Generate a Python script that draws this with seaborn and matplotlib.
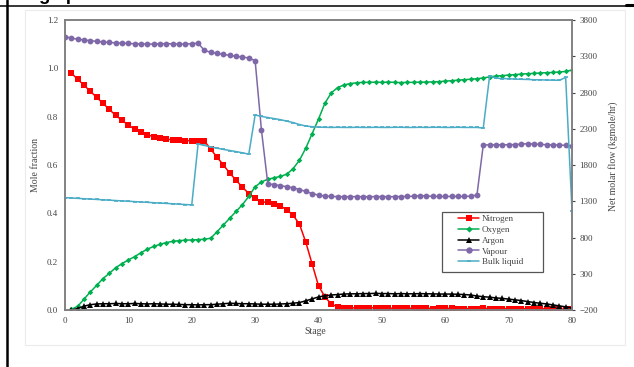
import matplotlib
matplotlib.use("Agg")
import matplotlib.pyplot as plt
import seaborn as sns
import pandas as pd
from matplotlib.lines import Line2D
from matplotlib.patches import Rectangle

# Column stages
stage_liq = list(range(1, 81))
stage_flow = list(range(0, 81))

# Liquid-phase mole fractions (stages 1-80)
nitrogen = [0.980, 0.955, 0.930, 0.905, 0.880, 0.855, 0.830, 0.805, 0.785, 0.765,
            0.748, 0.735, 0.725, 0.717, 0.711, 0.707, 0.704, 0.702, 0.701, 0.700,
            0.700, 0.699, 0.665, 0.632, 0.600, 0.566, 0.537, 0.508, 0.482, 0.462,
            0.448, 0.445, 0.440, 0.430, 0.415, 0.392, 0.355, 0.280, 0.190, 0.100,
            0.055, 0.025, 0.013, 0.010, 0.009, 0.009, 0.010, 0.010, 0.009, 0.008,
            0.008, 0.007, 0.007, 0.007, 0.007, 0.007, 0.007, 0.006, 0.007, 0.007,
            0.007, 0.006, 0.006, 0.006, 0.006, 0.007, 0.006, 0.006, 0.006, 0.006,
            0.006, 0.006, 0.005, 0.005, 0.005, 0.005, 0.004, 0.004, 0.004, 0.003]
oxygen = [0.003, 0.015, 0.045, 0.075, 0.102, 0.130, 0.152, 0.175, 0.192, 0.207,
          0.221, 0.237, 0.252, 0.263, 0.272, 0.279, 0.284, 0.287, 0.289, 0.290,
          0.291, 0.293, 0.297, 0.324, 0.352, 0.380, 0.408, 0.436, 0.470, 0.510,
          0.530, 0.541, 0.547, 0.553, 0.562, 0.585, 0.620, 0.670, 0.730, 0.790,
          0.855, 0.898, 0.920, 0.931, 0.937, 0.940, 0.942, 0.942, 0.943, 0.942,
          0.943, 0.942, 0.941, 0.942, 0.942, 0.943, 0.943, 0.944, 0.945, 0.947,
          0.949, 0.951, 0.953, 0.955, 0.957, 0.960, 0.965, 0.968, 0.970, 0.972,
          0.974, 0.976, 0.978, 0.979, 0.981, 0.982, 0.983, 0.985, 0.987, 0.993]
argon = [0.000, 0.006, 0.016, 0.022, 0.025, 0.026, 0.026, 0.027, 0.026, 0.026,
         0.027, 0.026, 0.025, 0.026, 0.025, 0.024, 0.024, 0.023, 0.022, 0.022,
         0.021, 0.022, 0.022, 0.024, 0.026, 0.028, 0.027, 0.026, 0.026, 0.025,
         0.024, 0.024, 0.024, 0.025, 0.026, 0.028, 0.031, 0.038, 0.046, 0.054,
         0.059, 0.062, 0.064, 0.066, 0.067, 0.067, 0.068, 0.068, 0.069, 0.068,
         0.068, 0.067, 0.068, 0.067, 0.067, 0.068, 0.067, 0.067, 0.066, 0.066,
         0.066, 0.065, 0.064, 0.062, 0.058, 0.055, 0.053, 0.050, 0.048, 0.045,
         0.042, 0.039, 0.035, 0.031, 0.028, 0.025, 0.021, 0.017, 0.013, 0.009]

# Net molar flows in kgmole/hr (stages 0-80)
vapour = [3570, 3550, 3535, 3525, 3515, 3505, 3497, 3490, 3485, 3480,
          3477, 3472, 3470, 3468, 3468, 3472, 3474, 3470, 3468, 3470,
          3472, 3480, 3380, 3355, 3340, 3326, 3312, 3300, 3290, 3275,
          3240, 2280, 1540, 1530, 1515, 1500, 1485, 1462, 1435, 1405,
          1385, 1372, 1366, 1364, 1363, 1363, 1364, 1363, 1363, 1365,
          1364, 1363, 1364, 1365, 1366, 1370, 1378, 1372, 1368, 1366,
          1366, 1367, 1366, 1367, 1370, 1386, 2076, 2078, 2080, 2078,
          2080, 2082, 2088, 2094, 2090, 2084, 2080, 2078, 2076, 2070, 2062]
bulk_liquid = [1350, 1345, 1340, 1335, 1330, 1325, 1320, 1315, 1310, 1305,
               1300, 1295, 1290, 1285, 1280, 1275, 1270, 1265, 1260, 1255,
               1250, 2090, 2070, 2050, 2032, 2015, 2000, 1985, 1968, 1950,
               2490, 2470, 2455, 2440, 2425, 2405, 2385, 2358, 2338, 2328,
               2322, 2320, 2318, 2320, 2318, 2318, 2320, 2318, 2318, 2320,
               2318, 2318, 2320, 2320, 2318, 2318, 2320, 2318, 2320, 2320,
               2318, 2318, 2320, 2318, 2318, 2318, 2310, 3030, 2998, 2992,
               2990, 2985, 2982, 2980, 2976, 2975, 2972, 2970, 2968, 3008, 1170]

left_ticks = [0.0, 0.2, 0.4, 0.6, 0.8, 1.0, 1.2]
right_ticks = [-200, 300, 800, 1300, 1800, 2300, 2800, 3300, 3800]
x_ticks = [0, 10, 20, 30, 40, 50, 60, 70, 80]

sns.set_theme(style="white")
plt.rcParams["font.family"] = ["Liberation Serif", "DejaVu Serif"]

W, H = 634, 367
fig = plt.figure(figsize=(W / 100, H / 100), dpi=100)
fig.patch.set_facecolor("white")

ax_l, ax_r, ax_t, ax_b = 65, 572, 20, 310
ax = fig.add_axes([ax_l / W, 1 - ax_b / H, (ax_r - ax_l) / W, (ax_b - ax_t) / H])
ax2 = ax.twinx()

comp = pd.DataFrame({
    "Stage": stage_liq * 3,
    "value": nitrogen + oxygen + argon,
    "series": ["Nitrogen"] * 80 + ["Oxygen"] * 80 + ["Argon"] * 80,
})
flow = pd.DataFrame({
    "Stage": stage_flow * 2,
    "value": vapour + bulk_liquid,
    "series": ["Vapour"] * 81 + ["Bulk liquid"] * 81,
})

styles = {
    "Nitrogen": dict(color="#ff0000", marker="s", markersize=3.9),
    "Oxygen": dict(color="#00b050", marker="D", markersize=2.8),
    "Argon": dict(color="#000000", marker="^", markersize=3.9),
    "Vapour": dict(color="#7f68a8", marker="o", markersize=4.2),
    "Bulk liquid": dict(color="#4bacc6", marker="_", markersize=3.0),
}

for name in ["Nitrogen", "Oxygen", "Argon"]:
    st = styles[name]
    sns.lineplot(data=comp[comp["series"] == name], x="Stage", y="value", ax=ax,
                 color=st["color"], marker=st["marker"], markersize=st["markersize"],
                 markeredgewidth=0, linewidth=1.1, legend=False)
for name in ["Vapour", "Bulk liquid"]:
    st = styles[name]
    sns.lineplot(data=flow[flow["series"] == name], x="Stage", y="value", ax=ax2,
                 color=st["color"], marker=st["marker"], markersize=st["markersize"],
                 markeredgewidth=1.2 if st["marker"] == "_" else 0,
                 markeredgecolor=st["color"], linewidth=1.1, legend=False)

ax.set_xlim(0, 80)
ax.set_ylim(0, 1.2)
ax2.set_ylim(-200, 3800)
ax.set_xticks(x_ticks)
ax.set_yticks(left_ticks)
ax.set_yticklabels([f"{v:.1f}" for v in left_ticks])
ax2.set_yticks(right_ticks)

tick_color = "#444444"
ax.tick_params(axis="both", labelsize=6.5, colors=tick_color, length=0, pad=5)
ax2.tick_params(axis="y", labelsize=6.5, colors=tick_color, length=2.5, width=0.8,
                direction="out", pad=3, right=True)

for a in (ax, ax2):
    for sp in a.spines.values():
        sp.set_color("#7f7f7f")
        sp.set_linewidth(1.1)

ax.set_xlabel("Stage", fontsize=7, color=tick_color)
ax.set_ylabel("Mole fraction", fontsize=7, color=tick_color)
ax2.set_ylabel("Net molar flow (kgmole/hr)", fontsize=7, color=tick_color)
ax.xaxis.set_label_coords((315 - ax_l) / (ax_r - ax_l), -(327 - ax_b) / (ax_b - ax_t))
ax.yaxis.set_label_coords(-(ax_l - 40) / (ax_r - ax_l), 0.5)
ax2.yaxis.set_label_coords((608 - ax_l) / (ax_r - ax_l), 0.53)

# Legend with a plain rectangular frame
handles = []
for name in ["Nitrogen", "Oxygen", "Argon", "Vapour", "Bulk liquid"]:
    st = styles[name]
    handles.append(Line2D([], [], color=st["color"], marker=st["marker"],
                          markersize=st["markersize"] + 0.4, linewidth=1.1,
                          markeredgewidth=1.2 if st["marker"] == "_" else 0,
                          markeredgecolor=st["color"], label=name))
leg = ax2.legend(handles=handles, loc="upper left", frameon=False,
                 bbox_to_anchor=(455 / W, 1 - 212 / H), bbox_transform=fig.transFigure,
                 fontsize=6.5, handlelength=2.4, handletextpad=0.3,
                 labelspacing=0.28, borderpad=0.3, borderaxespad=0)
for t in leg.get_texts():
    t.set_color(tick_color)
fig.add_artist(Rectangle((442 / W, 1 - 272 / H), (543 - 442) / W, 60 / H,
                         transform=fig.transFigure, fill=False,
                         edgecolor="#555555", linewidth=0.9, zorder=5))

# Surrounding page elements: chart area, table rules, heading above
fig.add_artist(Rectangle((25 / W, 1 - 345 / H), 600 / W, 335 / H,
                         transform=fig.transFigure, fill=False,
                         edgecolor="#ececec", linewidth=0.8, zorder=0))
fig.add_artist(Line2D([6.5 / W, 6.5 / W], [0, 1], transform=fig.transFigure,
                      color="black", linewidth=1.8))
fig.add_artist(Line2D([0, 1], [1 - 5.5 / H, 1 - 5.5 / H], transform=fig.transFigure,
                      color="black", linewidth=1.1))
fig.add_artist(Line2D([626 / W, 1], [1 - 4.5 / H, 1 - 4.5 / H], transform=fig.transFigure,
                      color="black", linewidth=2.2))
fig.text(10 / W, 1 + 0.5 / H, "Stage profiles", fontsize=13.4, fontweight="bold",
         family=["Liberation Sans", "DejaVu Sans"], color="black", va="baseline", ha="left")

fig.savefig("out.png", dpi=100, facecolor="white")
